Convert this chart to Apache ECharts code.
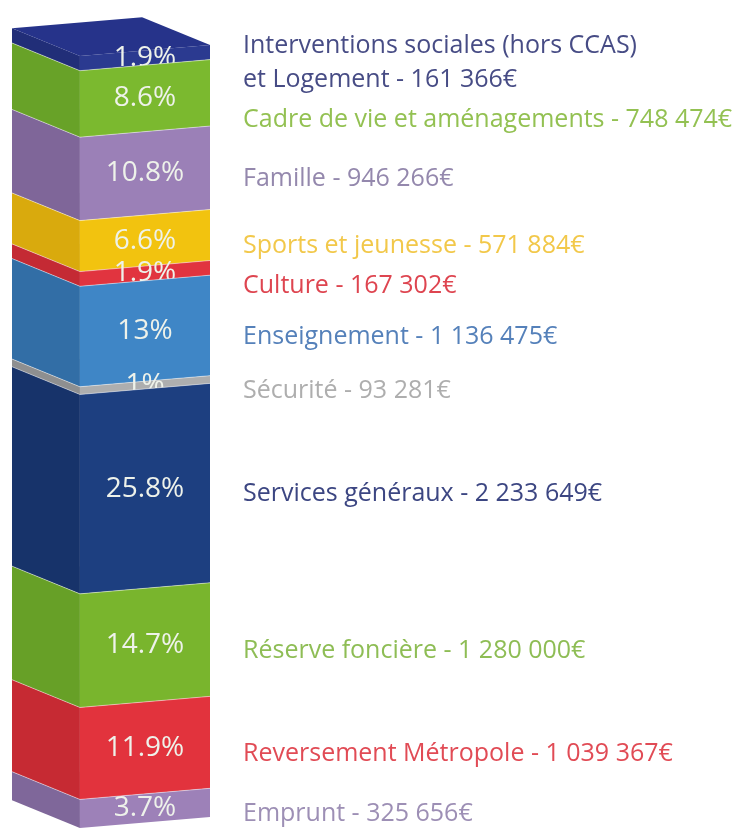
<!DOCTYPE html>
<html>
<head>
<meta charset="utf-8">
<script src="https://cdn.jsdelivr.net/npm/echarts@6/dist/echarts.min.js"></script>
<style>
html, body { margin: 0; padding: 0; background: #ffffff; }
#chart { width: 754px; height: 829px; }
</style>
</head>
<body>
<div id="chart"></div>
<script>
// postes du budget, du haut de la colonne vers le bas
const postes = [
    'Interventions sociales (hors CCAS)\net Logement',
    'Cadre de vie et aménagements',
    'Famille',
    'Sports et jeunesse',
    'Culture',
    'Enseignement',
    'Sécurité',
    'Services généraux',
    'Réserve foncière',
    'Reversement Métropole',
    'Emprunt'
];
const pourcentages = [1.9, 8.6, 10.8, 6.6, 1.9, 13, 1, 25.8, 14.7, 11.9, 3.7];
const montants = [161366, 748474, 946266, 571884, 167302, 1136475, 93281, 2233649, 1280000, 1039367, 325656];

// couleurs : face avant, face de côté, texte
const faceAvant = ['#2b3a90', '#7bb92f', '#9b80b7', '#f2c30f', '#e1343f', '#3f86c6', '#adaeaf', '#1d3f80', '#79b52d', '#e2333d', '#9d81b8'];
const faceCote  = ['#212e78', '#68a228', '#7f6699', '#d9aa0d', '#c42a34', '#326ea6', '#8e8f90', '#17336a', '#67a027', '#c62a33', '#7f679a'];
const couleurTexte = ['#474c85', '#93c152', '#9488ad', '#f2c84a', '#de4550', '#5581ba', '#aeaeae', '#3c4682', '#8ebd55', '#e14b55', '#9d8fb5'];

function formatEuro(v) {
    return String(v).replace(/\B(?=(\d{3})+(?!\d))/g, ' ') + '€';
}

// début / fin de chaque bloc empilé
let cumul = 0;
const blocs = pourcentages.map(function (p) {
    const d = cumul;
    cumul += p;
    return [0, d, cumul];
});
const total = cumul;

const police = '"Open Sans", "DejaVu Sans", sans-serif';
const interligne = 34;
const ecartLibelles = 6;
let basDernierLibelle = 0; // pour éviter que les libellés se chevauchent

function renderBloc(params, api) {
    const i = params.dataIndex;
    const haut = api.coord([0, api.value(1)]);
    const bas = api.coord([0, api.value(2)]);
    const bw = api.size([1, 0])[0];
    const x0 = haut[0] - bw / 2;
    const xf = x0 + bw * 0.343;
    const x1 = x0 + bw;
    const montee = bw * 0.14;   // fuite du côté gauche
    const pente = bw * 0.056;   // inclinaison de la face avant
    const yT = haut[1];
    const yB = bas[1];

    const enfants = [
        {
            type: 'polygon',
            shape: { points: [[x0, yT - montee], [xf, yT], [xf, yB], [x0, yB - montee]] },
            style: { fill: faceCote[i] }
        },
        {
            type: 'polygon',
            shape: { points: [[xf, yT], [x1, yT - pente], [x1, yB - pente], [xf, yB]] },
            style: { fill: faceAvant[i] }
        }
    ];
    if (i === 0) {
        enfants.push({
            type: 'polygon',
            shape: { points: [[x0, yT - montee], [xf, yT], [x1, yT - pente], [x1 - (xf - x0), yT - pente - montee]] },
            style: { fill: '#26338a' }
        });
    } else {
        enfants.push({
            type: 'polyline',
            shape: { points: [[x0, yT - montee], [xf, yT], [x1, yT - pente]] },
            style: { stroke: 'rgba(255,255,255,0.45)', lineWidth: 1, fill: null }
        });
    }
    // pourcentage sur la face avant
    enfants.push({
        type: 'text',
        style: {
            text: String(pourcentages[i]) + '%',
            x: (xf + x1) / 2,
            y: (yT + yB) / 2 - pente / 2,
            align: 'center',
            verticalAlign: 'middle',
            fill: '#eef2ea',
            fontSize: 28,
            fontFamily: police
        }
    });
    // libellé à droite, centré sur le bloc puis poussé vers le bas si besoin
    const texte = postes[i] + ' - ' + formatEuro(montants[i]);
    const h = texte.split('\n').length * interligne;
    if (i === 0) basDernierLibelle = -Infinity;
    const yLib = Math.max((yT + yB) / 2, basDernierLibelle + ecartLibelles + h / 2);
    basDernierLibelle = yLib + h / 2;
    enfants.push({
        type: 'text',
        style: {
            text: texte,
            x: x1 + 33,
            y: yLib,
            align: 'left',
            verticalAlign: 'middle',
            fill: couleurTexte[i],
            fontSize: 25,
            lineHeight: interligne,
            fontFamily: police
        }
    });
    return { type: 'group', children: enfants };
}

const chart = echarts.init(document.getElementById('chart'));
chart.setOption({
    animation: false,
    grid: { left: 12, width: 198, top: 56, bottom: 1 },
    xAxis: { type: 'category', data: ['Budget'], show: false },
    yAxis: { type: 'value', inverse: true, min: 0, max: total, show: false },
    series: [{
        type: 'custom',
        clip: false,
        renderItem: renderBloc,
        encode: { x: 0, y: [1, 2] },
        data: blocs
    }]
});
</script>
</body>
</html>
